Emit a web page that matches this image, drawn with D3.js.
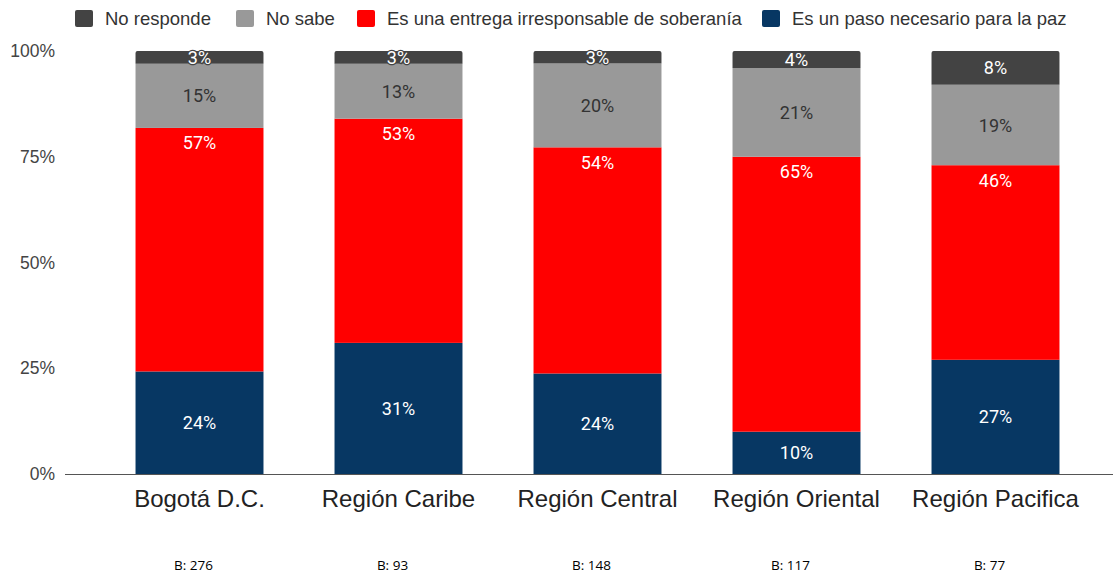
<!DOCTYPE html>
<html>
<head>
<meta charset="utf-8">
<script src="https://cdn.jsdelivr.net/npm/d3@7"></script>
<style>
  body { margin: 0; background: #fff; }
  svg { display: block; }
</style>
</head>
<body>
<div id="chart"></div>
<script>
// data
var regions = ['Bogotá D.C.', 'Región Caribe', 'Región Central', 'Región Oriental', 'Región Pacifica'];
var bases = ['B: 276', 'B: 93', 'B: 148', 'B: 117', 'B: 77'];
var pasoPaz = [24, 31, 24, 10, 27];
var entregaIrresp = [57, 53, 54, 65, 46];
var noSabe = [15, 13, 20, 21, 19];
var noResponde = [3, 3, 3, 4, 8];
var yTicks = [0, 0.25, 0.5, 0.75, 1];
var legendOrder = ['No responde', 'No sabe', 'Es una entrega irresponsable de soberanía', 'Es un paso necesario para la paz'];

var colors = ['#073763', '#ff0000', '#999999', '#434343'];
var textColors = ['#ffffff', '#ffffff', '#333333', '#ffffff'];
var sansFont = '"Liberation Sans", Arial, sans-serif';

var width = 1116, height = 574;
var margin = {t: 51, r: 3, b: 100, l: 65};

var svg = d3.select('#chart').append('svg')
    .attr('width', width)
    .attr('height', height);

// build table for stack
var table = regions.map(function(r, i) {
    return {region: r, s0: pasoPaz[i], s1: entregaIrresp[i], s2: noSabe[i], s3: noResponde[i]};
});
var keys = ['s0', 's1', 's2', 's3'];
var stacked = d3.stack().keys(keys).offset(d3.stackOffsetExpand)(table);

var x = d3.scaleBand().domain(regions).range([100, 1095]).paddingInner(0.357).paddingOuter(0.1785);
var y = d3.scaleLinear().domain([0, 1]).range([474, 51]);

// y tick labels
svg.append('g').selectAll('text')
    .data(yTicks)
    .join('text')
    .attr('x', 55)
    .attr('y', function(d) { return y(d); })
    .attr('dy', '0.35em')
    .attr('text-anchor', 'end')
    .style('font-family', sansFont)
    .style('font-size', '17.5px')
    .style('fill', '#444')
    .text(function(d) { return d3.format('.0%')(d); });

// bars
var layers = svg.append('g').selectAll('g')
    .data(stacked)
    .join('g')
    .attr('fill', function(d, i) { return colors[i]; });

layers.each(function(layer, li) {
    var g = d3.select(this);
    layer.forEach(function(d) {
        var x0 = x(d.data.region), bw = x.bandwidth();
        var top = y(d[1]), bot = y(d[0]);
        if (li === 3) {
            // rounded top corners
            var r = 2;
            g.append('path')
                .attr('d', 'M' + x0 + ',' + bot + 'V' + (top + r) + 'Q' + x0 + ',' + top + ' ' + (x0 + r) + ',' + top +
                    'H' + (x0 + bw - r) + 'Q' + (x0 + bw) + ',' + top + ' ' + (x0 + bw) + ',' + (top + r) + 'V' + bot + 'Z');
        } else {
            g.append('rect')
                .attr('x', x0)
                .attr('y', top)
                .attr('width', bw)
                .attr('height', bot - top);
        }
    });
});

// value labels (red ones sit near the top of their segment)
var vals = [pasoPaz, entregaIrresp, noSabe, noResponde];
stacked.forEach(function(layer, li) {
    layer.forEach(function(d, i) {
        var ly = li === 1 ? y(d[1]) + 15 : (y(d[0]) + y(d[1])) / 2;
        var t = svg.append('text')
            .attr('x', x(d.data.region) + x.bandwidth() / 2)
            .attr('y', ly)
            .attr('dy', '0.36em')
            .attr('text-anchor', 'middle')
            .style('font-family', 'Roboto, sans-serif')
            .style('font-size', '18px')
            .style('fill', textColors[li])
            .text(vals[li][i] + '%');
        if (li === 3 && vals[li][i] < 6) {
            t.style('stroke', '#434343').style('stroke-width', '2.5px').style('paint-order', 'stroke');
        }
    });
});

// baseline
svg.append('line')
    .attr('x1', margin.l).attr('x2', width - margin.r)
    .attr('y1', 474.5).attr('y2', 474.5)
    .attr('stroke', '#555').attr('stroke-width', 1);

// x labels
svg.append('g').selectAll('text')
    .data(regions)
    .join('text')
    .attr('x', function(d) { return x(d) + x.bandwidth() / 2; })
    .attr('y', 507)
    .attr('text-anchor', 'middle')
    .style('font-family', sansFont)
    .style('font-size', '24px')
    .style('fill', '#222')
    .text(function(d) { return d; });

// base sizes
svg.append('g').selectAll('text')
    .data(bases)
    .join('text')
    .attr('x', function(d, i) { return x(regions[i]) + x.bandwidth() / 2 - 6; })
    .attr('y', 569.5)
    .attr('text-anchor', 'middle')
    .style('font-family', '"Open Sans", sans-serif')
    .style('font-size', '13.5px')
    .style('fill', '#000')
    .text(function(d) { return d; });

// legend
var legendX = [75, 236, 357, 762];
var legend = svg.append('g').selectAll('g')
    .data(legendOrder)
    .join('g')
    .attr('transform', function(d, i) { return 'translate(' + legendX[i] + ',10)'; });
legend.append('rect')
    .attr('width', 18).attr('height', 17).attr('rx', 2)
    .attr('fill', function(d) { return colors[3 - legendOrder.indexOf(d)]; });
legend.append('text')
    .attr('x', 30)
    .attr('y', 8.5)
    .attr('dy', '0.36em')
    .style('font-family', sansFont)
    .style('font-size', '18.5px')
    .style('fill', '#333')
    .text(function(d) { return d; });
</script>
</body>
</html>
